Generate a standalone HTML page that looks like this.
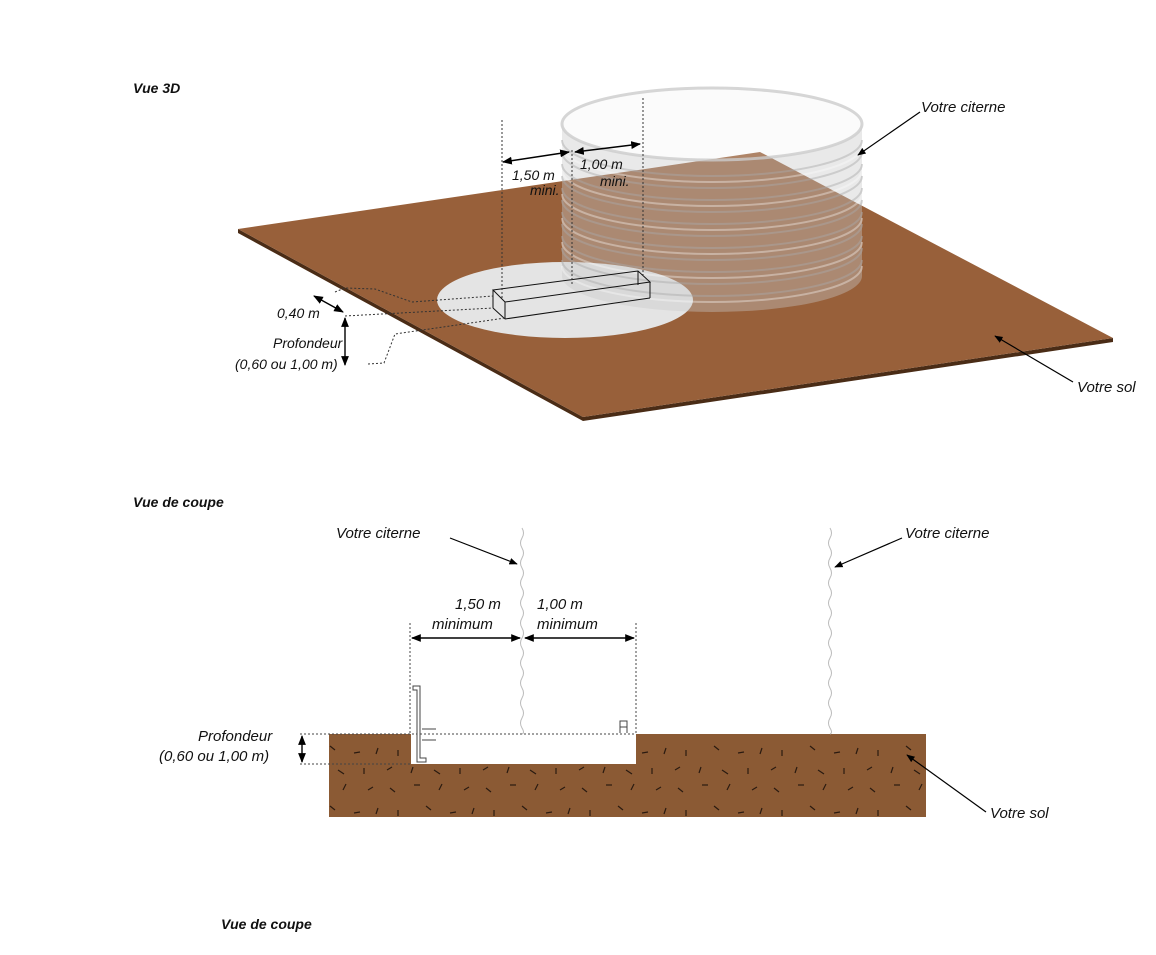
<!DOCTYPE html>
<html><head><meta charset="utf-8"><style>
body{margin:0;background:#fff;width:1156px;height:955px;overflow:hidden}
svg{display:block}
text{font-family:"Liberation Sans",sans-serif;font-style:italic;fill:#111}
</style></head><body>
<svg width="1156" height="955" viewBox="0 0 1156 955">
<defs>
<marker id="a" viewBox="0 0 10 10" refX="9" refY="5" markerWidth="7" markerHeight="7" orient="auto-start-reverse"><path d="M0,1 L10,5 L0,9z" fill="#000"/></marker>
<pattern id="soil" width="96" height="60" patternUnits="userSpaceOnUse">
<rect width="96" height="60" fill="#8b5a34"/>
<g stroke="#2a1a10" stroke-width="1.2">
<line x1="6" y1="8" x2="11" y2="12"/><line x1="30" y1="5" x2="36" y2="5"/><line x1="58" y1="4" x2="55" y2="10"/><line x1="80" y1="10" x2="85" y2="7"/>
<line x1="14" y1="30" x2="14" y2="36"/><line x1="42" y1="26" x2="47" y2="30"/><line x1="66" y1="33" x2="72" y2="32"/><line x1="90" y1="28" x2="88" y2="34"/>
<line x1="3" y1="50" x2="8" y2="47"/><line x1="27" y1="53" x2="29" y2="47"/><line x1="50" y1="50" x2="56" y2="54"/><line x1="76" y1="48" x2="76" y2="54"/>
</g></pattern>
</defs>

<text x="133" y="93" font-weight="bold" font-size="14">Vue 3D</text>
<polygon points="238,233 583,421 1113,342 1113,338 583,417 238,229" fill="#4a2c16"/>
<polygon points="238,229 760,152 1113,338 583,417" fill="#98603a"/>
<ellipse cx="565" cy="300" rx="128" ry="38" fill="#e4e4e4"/>
<g>
<path d="M562,124 L562,276 A150,36 0 0 0 862,276 L862,124 A150,36 0 0 1 562,124 Z" fill="#c8c8c8" opacity="0.4"/>
<ellipse cx="712" cy="124" rx="150" ry="36" fill="#eee" opacity="0.25"/>
<ellipse cx="712" cy="124" rx="150" ry="36" fill="none" stroke="#ccc" stroke-width="3" opacity="0.8"/>
<g fill="none" stroke="#aaa" stroke-width="2" opacity="0.45">
<path d="M562,140 A150,36 0 0 0 862,140"/><path d="M562,152 A150,36 0 0 0 862,152"/><path d="M562,164 A150,36 0 0 0 862,164"/><path d="M562,176 A150,36 0 0 0 862,176"/><path d="M562,188 A150,36 0 0 0 862,188"/><path d="M562,200 A150,36 0 0 0 862,200"/><path d="M562,212 A150,36 0 0 0 862,212"/><path d="M562,224 A150,36 0 0 0 862,224"/><path d="M562,236 A150,36 0 0 0 862,236"/><path d="M562,248 A150,36 0 0 0 862,248"/><path d="M562,260 A150,36 0 0 0 862,260"/>
</g>
<g fill="none" stroke="#fff" stroke-width="2" opacity="0.35">
<path d="M562,146 A150,36 0 0 0 862,146"/><path d="M562,170 A150,36 0 0 0 862,170"/><path d="M562,194 A150,36 0 0 0 862,194"/><path d="M562,218 A150,36 0 0 0 862,218"/><path d="M562,242 A150,36 0 0 0 862,242"/><path d="M562,266 A150,36 0 0 0 862,266"/>
</g>
</g>
<g fill="none" stroke="#111" stroke-width="1">
<polygon points="493,290 638,271 650,282 505,302"/>
<line x1="493" y1="290" x2="493" y2="308"/><line x1="505" y1="302" x2="505" y2="319"/><line x1="650" y1="282" x2="650" y2="298"/>
<line x1="493" y1="308" x2="505" y2="319"/><line x1="505" y1="319" x2="650" y2="298"/><line x1="638" y1="271" x2="638" y2="285"/>
</g>
<g stroke="#333" stroke-width="1" stroke-dasharray="2,2" fill="none">
<line x1="502" y1="120" x2="502" y2="300"/><line x1="572" y1="150" x2="572" y2="285"/><line x1="643" y1="98" x2="643" y2="275"/>
<polyline points="335,292 345,288 375,289 412,302 493,296"/>
<line x1="345" y1="316" x2="493" y2="308"/>
<polyline points="368,364 384,363 395,334 505,318"/>
</g>
<line x1="503" y1="162" x2="569" y2="152" stroke="#000" stroke-width="1.4" marker-start="url(#a)" marker-end="url(#a)"/>
<line x1="575" y1="152" x2="640" y2="144" stroke="#000" stroke-width="1.4" marker-start="url(#a)" marker-end="url(#a)"/>
<text x="512" y="180" font-size="14">1,50 m</text><text x="530" y="195" font-size="14">mini.</text>
<text x="580" y="169" font-size="14">1,00 m</text><text x="600" y="186" font-size="14">mini.</text>
<line x1="314" y1="296" x2="343" y2="312" stroke="#000" stroke-width="1.4" marker-start="url(#a)" marker-end="url(#a)"/>
<line x1="345" y1="318" x2="345" y2="365" stroke="#000" stroke-width="1.4" marker-start="url(#a)" marker-end="url(#a)"/>
<text x="277" y="318" font-size="14">0,40 m</text>
<text x="273" y="348" font-size="14">Profondeur</text>
<text x="235" y="369" font-size="14">(0,60 ou 1,00 m)</text>
<text x="921" y="112" font-size="15">Votre citerne</text>
<line x1="920" y1="112" x2="858" y2="155" stroke="#000" stroke-width="1.2" marker-end="url(#a)"/>
<text x="1077" y="392" font-size="15">Votre sol</text>
<line x1="1073" y1="382" x2="995" y2="336" stroke="#000" stroke-width="1.2" marker-end="url(#a)"/>

<text x="133" y="507" font-weight="bold" font-size="14">Vue de coupe</text>
<rect x="329" y="734" width="597" height="83" fill="url(#soil)"/>
<rect x="411" y="734" width="225" height="30" fill="#fff"/>
<g stroke="#bbb" fill="none" stroke-width="1">
<path d="M522,528 q3,5 0,10 q-3,5 0,10 q3,5 0,10 q-3,5 0,10 q3,5 0,10 q-3,5 0,10 q3,5 0,10 q-3,5 0,10 q3,5 0,10 q-3,5 0,10 q3,5 0,10 q-3,5 0,10 q3,5 0,10 q-3,5 0,10 q3,5 0,10 q-3,5 0,10 q3,5 0,10 q-3,5 0,10 q3,5 0,10 q-3,5 0,10 q3,5 0,6"/>
<path d="M830,528 q3,5 0,10 q-3,5 0,10 q3,5 0,10 q-3,5 0,10 q3,5 0,10 q-3,5 0,10 q3,5 0,10 q-3,5 0,10 q3,5 0,10 q-3,5 0,10 q3,5 0,10 q-3,5 0,10 q3,5 0,10 q-3,5 0,10 q3,5 0,10 q-3,5 0,10 q3,5 0,10 q-3,5 0,10 q3,5 0,10 q-3,5 0,10 q3,5 0,6"/>
</g>
<g stroke="#444" stroke-dasharray="2,2" stroke-width="1">
<line x1="300" y1="734" x2="636" y2="734"/><line x1="300" y1="764" x2="411" y2="764"/>
<line x1="410" y1="623" x2="410" y2="734"/><line x1="636" y1="623" x2="636" y2="734"/>
</g>
<line x1="412" y1="638" x2="520" y2="638" stroke="#000" stroke-width="1.4" marker-start="url(#a)" marker-end="url(#a)"/>
<line x1="525" y1="638" x2="634" y2="638" stroke="#000" stroke-width="1.4" marker-start="url(#a)" marker-end="url(#a)"/>
<line x1="302" y1="736" x2="302" y2="762" stroke="#000" stroke-width="1.4" marker-start="url(#a)" marker-end="url(#a)"/>
<text x="455" y="609" font-size="15">1,50 m</text><text x="432" y="629" font-size="15">minimum</text>
<text x="537" y="609" font-size="15">1,00 m</text><text x="537" y="629" font-size="15">minimum</text>
<text x="198" y="741" font-size="15">Profondeur</text>
<text x="159" y="761" font-size="15">(0,60 ou 1,00 m)</text>
<path d="M413,686 h7 v72 h6 v4 h-9 v-72 h-4z" fill="#fff" stroke="#444" stroke-width="1"/>
<line x1="422" y1="729" x2="436" y2="729" stroke="#444"/><line x1="422" y1="740" x2="436" y2="740" stroke="#444"/>
<path d="M620,733 v-12 h7 v12 M620,727 h7" fill="none" stroke="#444"/>
<text x="336" y="538" font-size="15">Votre citerne</text>
<line x1="450" y1="538" x2="517" y2="564" stroke="#000" stroke-width="1.2" marker-end="url(#a)"/>
<text x="905" y="538" font-size="15">Votre citerne</text>
<line x1="902" y1="538" x2="835" y2="567" stroke="#000" stroke-width="1.2" marker-end="url(#a)"/>
<text x="990" y="818" font-size="15">Votre sol</text>
<line x1="986" y1="812" x2="907" y2="755" stroke="#000" stroke-width="1.2" marker-end="url(#a)"/>
<text x="221" y="929" font-weight="bold" font-size="14">Vue de coupe</text>
</svg>
</body></html>
